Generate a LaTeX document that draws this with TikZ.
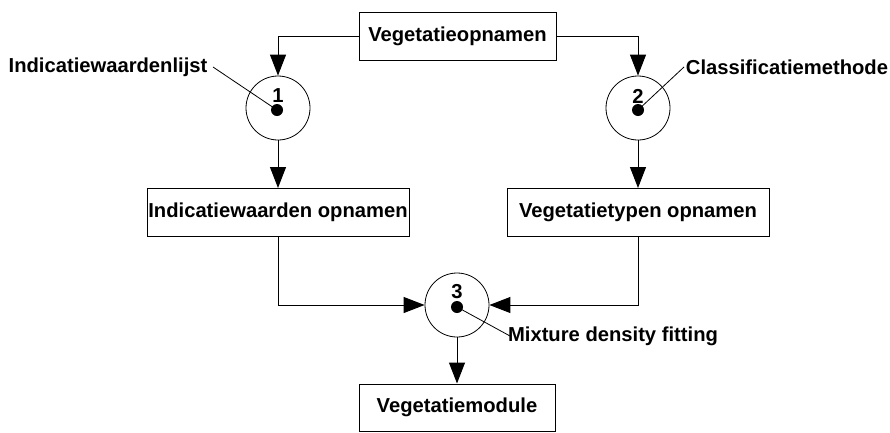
\documentclass[tikz,border=0pt]{standalone}
\usepackage{fontspec}
\setmainfont{Liberation Sans}
\usetikzlibrary{arrows.meta}
\begin{document}
\begin{tikzpicture}[x=1pt,y=-1pt,
  every node/.style={font=\fontsize{20.2}{23}\selectfont\bfseries},
  box/.style={draw,line width=1pt,rectangle,minimum height=48pt,inner sep=0pt},
  proc/.style={draw,line width=0.8pt,circle,minimum size=64pt,inner sep=0pt},
  dotnode/.style={fill,circle,minimum size=12pt,inner sep=0pt},
  arr/.style={line width=1pt,-{Triangle[length=21pt,width=16pt]}},
  lead/.style={line width=0.8pt}]
\useasboundingbox (0,0) rectangle (890,432);
\node[box,minimum width=197pt] (veg) at (457.5,36) {Vegetatieopnamen};
\node[proc] (c1) at (278,108) {};
\node[proc] (c2) at (638,108) {};
\node[proc] (c3) at (457,305) {};
\node[box,minimum width=262pt] (b1) at (278,212.5) {Indicatiewaarden opnamen};
\node[box,minimum width=262pt] (b2) at (638,212.5) {Vegetatietypen opnamen};
\node[box,minimum width=196pt,minimum height=47pt] (mod) at (457,407.5) {Vegetatiemodule};
\node (lab1) at (108,67) {Indicatiewaardenlijst};
\node (lab2) at (787,67) {Classificatiemethode};
\node (lab3) at (613,336) {Mixture density fitting};
\coordinate (l1) at (213,67);
\coordinate (l2) at (684,67);
\coordinate (l3) at (510,336);
\node[dotnode] (d1) at (277,110) {};
\node[dotnode] (d2) at (638,110) {};
\node[dotnode] (d3) at (457,307) {};
\draw[lead] (l1) -- (d1.center);
\draw[lead] (l2) -- (d2.center);
\draw[lead] (l3) -- (d3.center);
\node (n1) at (278,96) {1};
\node (n2) at (638,96) {2};
\node (n3) at (457,292) {3};
\draw[arr] (veg.west) -| (c1.north);
\draw[arr] (veg.east) -| (c2.north);
\draw[arr] (c1.south) -- (b1.north);
\draw[arr] (c2.south) -- (b2.north);
\draw[arr] (b1.south) |- (c3.west);
\draw[arr] (b2.south) |- (c3.east);
\draw[arr] (c3.south) -- (mod.north);
\end{tikzpicture}
\end{document}
